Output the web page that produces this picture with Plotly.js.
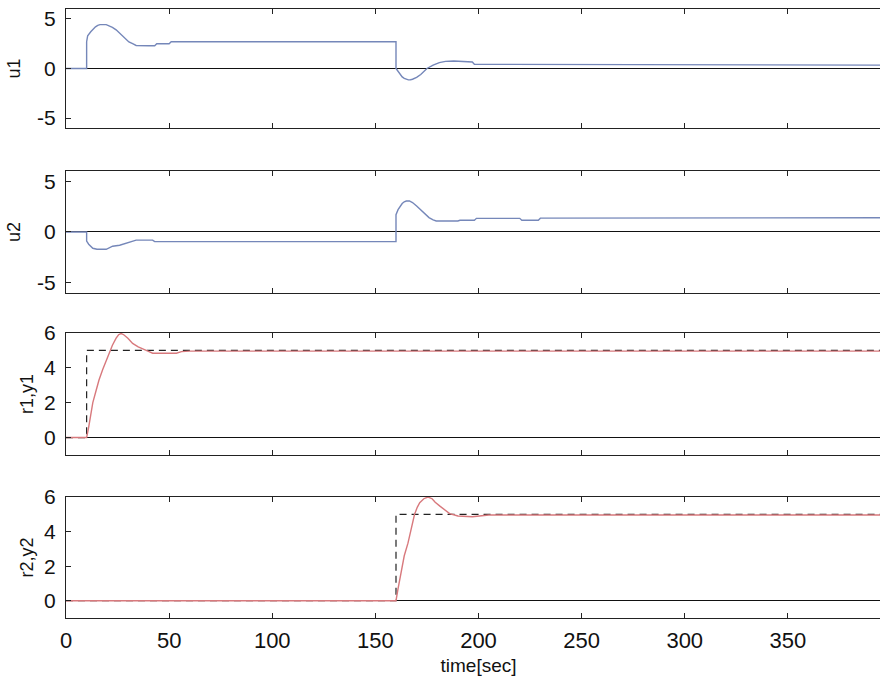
<!DOCTYPE html>
<html>
<head>
<meta charset="utf-8">
<script src="https://cdn.plot.ly/plotly-3.0.1.min.js"></script>
<style>
  html, body { margin: 0; padding: 0; overflow: hidden; background: #fff; }
  #chart { width: 900px; height: 676px; }
</style>
</head>
<body>
<div id="chart"></div>
<script>
// ---- data ----
const u1_t = [0, 10, 10, 10.5, 12, 13, 14.3, 15.4, 16.5, 19.5, 21, 22.5, 24.3, 26, 27.5, 29, 30.5, 32.3, 34, 40, 43, 44, 50, 51, 160, 160, 161, 162, 163, 164, 165, 166, 167, 168, 170, 172, 175, 178, 181, 184, 188, 192, 195, 197, 198, 250, 300, 350, 400];
const u1   = [0, 0, 2.7, 3.3, 3.7, 3.95, 4.2, 4.35, 4.42, 4.42, 4.32, 4.15, 3.9, 3.55, 3.2, 2.9, 2.68, 2.5, 2.32, 2.3, 2.3, 2.5, 2.5, 2.7, 2.7, 0, -0.3, -0.6, -0.85, -1.0, -1.1, -1.15, -1.13, -1.08, -0.9, -0.6, 0, 0.35, 0.6, 0.72, 0.75, 0.72, 0.66, 0.65, 0.42, 0.4, 0.38, 0.36, 0.34];

const u2_t = [0, 10, 10, 11, 13, 15, 19.5, 22.6, 26, 29, 32, 34, 42, 43, 160, 160, 161, 162, 163, 164, 165, 166.5, 168, 170, 172, 174, 176, 178, 179.5, 190, 191, 198, 199, 220, 221, 229, 230, 400];
const u2   = [0, 0, -0.9, -1.2, -1.6, -1.7, -1.7, -1.4, -1.3, -1.1, -0.9, -0.8, -0.8, -0.95, -0.95, 1.7, 2.2, 2.55, 2.8, 2.97, 3.05, 3.05, 2.9, 2.55, 2.15, 1.75, 1.42, 1.2, 1.08, 1.08, 1.15, 1.15, 1.34, 1.34, 1.15, 1.15, 1.36, 1.4];

const r1_t = [0, 10, 10, 400];
const r1   = [0, 0, 5, 5];
const y1_t = [0, 10, 11, 12, 13, 14.6, 16, 17.8, 19.5, 21, 22.5, 24.3, 25.5, 26.7, 28, 30, 32.3, 35, 37.2, 40, 42, 47, 53.5, 56, 60, 400];
const y1   = [0, 0, 0.6, 1.37, 2.0, 2.7, 3.3, 3.9, 4.4, 4.93, 5.3, 5.7, 5.9, 5.97, 5.9, 5.7, 5.4, 5.2, 5.07, 4.95, 4.84, 4.85, 4.84, 4.93, 4.96, 4.96];

const r2_t = [0, 160, 160, 400];
const r2   = [0, 0, 5, 5];
const y2_t = [0, 160, 161, 162.6, 164, 165.8, 167.5, 169, 170.3, 171.5, 173.5, 175.5, 177.5, 179, 181.3, 183.5, 186, 190, 197, 205, 400];
const y2   = [0, 0, 0.7, 1.76, 2.6, 3.33, 4.2, 5.0, 5.4, 5.67, 5.9, 6.0, 5.9, 5.7, 5.47, 5.25, 5.04, 4.9, 4.86, 4.96, 4.96];

const xTicks = [0, 50, 100, 150, 200, 250, 300, 350, 400];
const uTicks = [-5, 0, 5];
const uTickText = ['-5', '0', '5'];
const ryTicks = [0, 2, 4, 6];
const yTitles = ['u1', 'u2', 'r1,y1', 'r2,y2'];
const xTitle = 'time[sec]';

// ---- styles ----
const BLUE = '#7587b9';
const RED = '#d8797d';
const FONT = 'Liberation Sans, Arial, Helvetica, sans-serif';

const traces = [
  {x: u1_t, y: u1, xaxis: 'x', yaxis: 'y', mode: 'lines', line: {color: BLUE, width: 1.4}},
  {x: u2_t, y: u2, xaxis: 'x2', yaxis: 'y2', mode: 'lines', line: {color: BLUE, width: 1.4}},
  {x: r1_t, y: r1, xaxis: 'x3', yaxis: 'y3', mode: 'lines', line: {color: '#222', width: 1.2, dash: '7px,5px'}},
  {x: y1_t, y: y1, xaxis: 'x3', yaxis: 'y3', mode: 'lines', line: {color: RED, width: 1.4}},
  {x: r2_t, y: r2, xaxis: 'x4', yaxis: 'y4', mode: 'lines', line: {color: '#222', width: 1.2, dash: '7px,5px'}},
  {x: y2_t, y: y2, xaxis: 'x4', yaxis: 'y4', mode: 'lines', line: {color: RED, width: 1.4}}
];

function xax(anchor, last) {
  return {
    anchor: anchor, domain: [0, 1], range: [0, 400],
    tickmode: 'array', tickvals: xTicks,
    ticks: 'inside', ticklen: 5, tickcolor: '#222', tickwidth: 1,
    showline: true, linecolor: '#222', linewidth: 1, mirror: 'ticks',
    showgrid: false, zeroline: false,
    showticklabels: !!last,
    ticklabelstandoff: 3,
    tickfont: {family: FONT, size: 22, color: '#111'},
    title: last ? {text: xTitle, font: {family: FONT, size: 19, color: '#111'}, standoff: 8} : undefined
  };
}
function yax(anchor, dom, rng, ticks, ticktext, title, standoff) {
  return {
    anchor: anchor, domain: dom, range: rng,
    tickmode: 'array', tickvals: ticks, ticktext: ticktext,
    ticks: 'inside', ticklen: 5, tickcolor: '#222', tickwidth: 1,
    showline: true, linecolor: '#222', linewidth: 1, mirror: 'ticks',
    showgrid: false, zeroline: true, zerolinecolor: '#111', zerolinewidth: 1,
    ticklabelstandoff: 5,
    tickfont: {family: FONT, size: 21, color: '#111'},
    title: {text: title, font: {family: FONT, size: 18, color: '#111'}, standoff: standoff}
  };
}

const layout = {
  width: 900, height: 676,
  margin: {l: 66, r: 9, t: 9, b: 58, pad: 0},
  paper_bgcolor: '#fff', plot_bgcolor: '#fff',
  showlegend: false,
  font: {family: FONT, color: '#111'},
  xaxis: xax('y', false),
  xaxis2: xax('y2', false),
  xaxis3: xax('y3', false),
  xaxis4: xax('y4', true),
  yaxis: yax('x', [0.8046, 1.0], [-6, 6], uTicks, uTickText, yTitles[0], 11),
  yaxis2: yax('x2', [0.5337, 0.7340], [-6, 6], uTicks, uTickText, yTitles[1], 11),
  yaxis3: yax('x3', [0.2677, 0.4680], [-1, 6], ryTicks, ryTicks.map(String), yTitles[2], 5),
  yaxis4: yax('x4', [0, 0.1987], [-1, 6], ryTicks, ryTicks.map(String), yTitles[3], 5)
};

Plotly.newPlot('chart', traces, layout, {staticPlot: true, displayModeBar: false});
</script>
</body>
</html>
